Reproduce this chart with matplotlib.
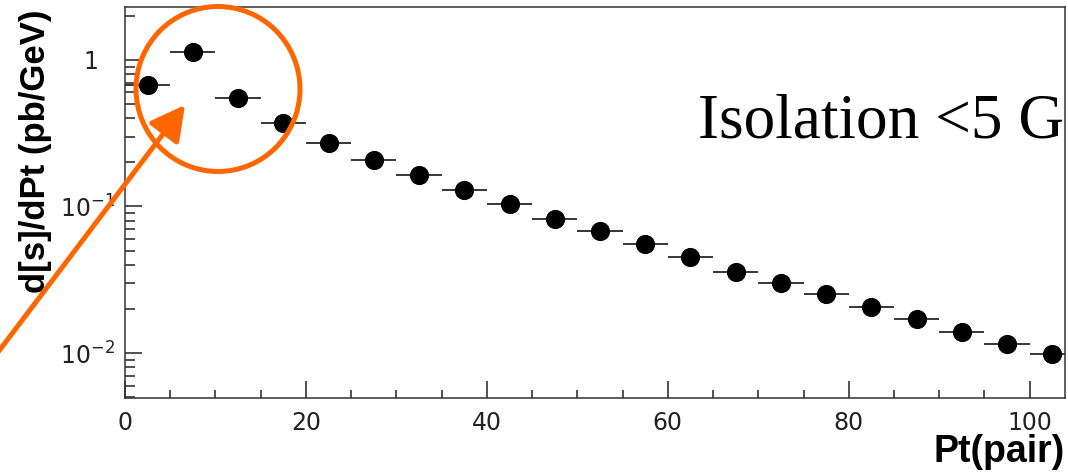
import matplotlib
matplotlib.use("Agg")
import matplotlib.pyplot as plt
import matplotlib.patches as mpatches
import matplotlib.transforms as mtransforms
from matplotlib.ticker import FixedLocator, MultipleLocator, LogLocator, NullFormatter

plt.rcParams['font.family'] = ['Liberation Sans', 'DejaVu Sans']
plt.rcParams['mathtext.fontset'] = 'dejavusans'

# data: bin centres (5 GeV bins) and cross section
pt_bins = [2.5, 7.5, 12.5, 17.5, 22.5, 27.5, 32.5, 37.5, 42.5, 47.5, 52.5,
           57.5, 62.5, 67.5, 72.5, 77.5, 82.5, 87.5, 92.5, 97.5, 102.5]
dsigma = [0.675, 1.14, 0.548, 0.373, 0.27, 0.208, 0.164, 0.130, 0.104, 0.0822,
          0.068, 0.0552, 0.045, 0.0359, 0.0299, 0.0253, 0.0205, 0.0170,
          0.0140, 0.0115, 0.00985]
bin_halfwidth = [2.5] * len(pt_bins)

ytick_vals = [1, 0.1, 0.01]
ytick_labels = ['1', '$10^{-1}$', '$10^{-2}$']
xtick_vals = [0, 20, 40, 60, 80, 100]

W, H = 1068, 475
fig = plt.figure(figsize=(W / 100, H / 100), dpi=100)
ax = fig.add_axes([125 / W, 1 - 398 / H, 940 / W, 391 / H])

ax.errorbar(pt_bins, dsigma, xerr=bin_halfwidth, fmt='o', color='black',
            ms=12.8, elinewidth=1.1, capsize=0)

ax.set_yscale('log')
ax.set_xlim(0, 103.9)
ax.set_ylim(0.00493, 2.3)

ax.yaxis.set_major_locator(FixedLocator(ytick_vals))
ax.set_yticklabels(ytick_labels)
ax.yaxis.set_minor_locator(LogLocator(base=10, subs=range(2, 10)))
ax.yaxis.set_minor_formatter(NullFormatter())
ax.xaxis.set_major_locator(FixedLocator(xtick_vals))
ax.xaxis.set_minor_locator(MultipleLocator(5))

ax.tick_params(axis='both', which='both', direction='in', top=False, right=False,
               colors='#222222', width=1.1, labelsize=17)
ax.tick_params(axis='y', which='major', length=12, pad=7)
ax.tick_params(axis='y', which='minor', length=7)
ax.tick_params(axis='x', which='major', length=12, pad=9)
ax.tick_params(axis='x', which='minor', length=6)
for lab in ax.get_xticklabels() + ax.get_yticklabels():
    lab.set_family('DejaVu Sans')

# "1" sits further left than the 10^n labels
lab = ax.get_yticklabels()[0]
lab.set_transform(lab.get_transform() +
                  mtransforms.ScaledTranslation(-0.17, 0, fig.dpi_scale_trans))

for s in ax.spines.values():
    s.set_color('#333333')
    s.set_linewidth(1.1)

ax.set_ylabel('d[s]/dPt (pb/GeV)', fontsize=25, fontweight='bold')
ax.yaxis.set_label_coords(-0.0957, 0.63)
ax.yaxis.label.set_va('center')
ax.set_xlabel('Pt(pair)', fontsize=27, fontweight='bold', loc='right')
ax.xaxis.set_label_coords(1.0, -0.164)
ax.xaxis.label.set_va('baseline')

fig.text(698 / W, 1 - 137 / H, 'Isolation <5 G', fontsize=45.5,
         family=['Liberation Serif', 'DejaVu Serif'], va='baseline', ha='left')

# orange highlight circle and arrow
orange = '#FF6600'
circ = mpatches.Ellipse((218 / W, 1 - 89 / H), 164 / W, 165 / H,
                        transform=fig.transFigure, fill=False,
                        edgecolor=orange, lw=3.6)
fig.add_artist(circ)
arrow = mpatches.FancyArrowPatch((-20 / W, 1 - 376 / H), (185 / W, 1 - 105 / H),
                                 transform=fig.transFigure,
                                 arrowstyle='-|>,head_length=1.4,head_width=0.75',
                                 mutation_scale=15, color=orange, lw=3.6,
                                 shrinkA=0, shrinkB=0)
fig.add_artist(arrow)

fig.savefig('out.png', dpi=100)
